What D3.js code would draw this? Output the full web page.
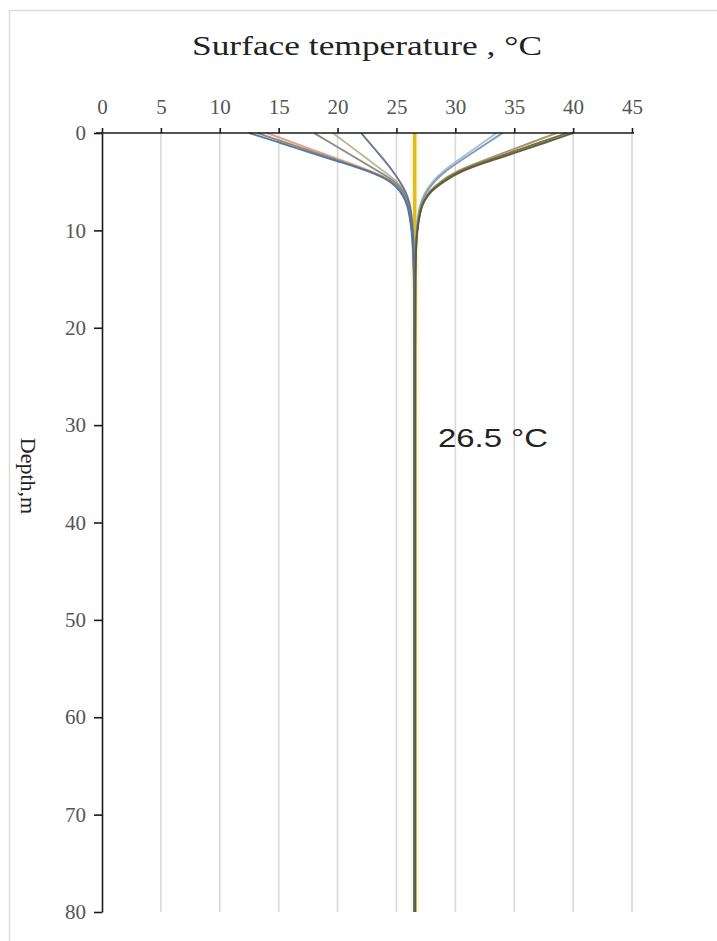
<!DOCTYPE html>
<html>
<head>
<meta charset="utf-8">
<script src="https://cdn.jsdelivr.net/npm/d3@7/dist/d3.min.js"></script>
<style>
  html, body { margin: 0; padding: 0; background: #fff; }
  svg { display: block; }
</style>
</head>
<body>
<svg id="chart" width="717" height="941"></svg>
<script>
// ---------- data ----------
const depths = [0, 1, 2, 3, 4, 5, 6, 7, 8, 10, 12, 15, 20, 40, 60, 80];
const xTicks = [0, 5, 10, 15, 20, 25, 30, 35, 40, 45];
const yTicks = [0, 10, 20, 30, 40, 50, 60, 70, 80];

// temperatures (°C) at each depth in `depths`
const s1  = [12.5, 15.09, 17.67, 20.26, 22.85, 24.6, 25.35, 25.8, 26.05, 26.3, 26.42, 26.49, 26.5, 26.5, 26.5, 26.5];
const s2  = [13.2, 15.63, 18.07, 20.5, 22.94, 24.7, 25.42, 25.85, 26.08, 26.32, 26.43, 26.5, 26.51, 26.51, 26.51, 26.51];
const s3  = [14.0, 16.26, 18.52, 20.78, 23.04, 24.8, 25.5, 25.9, 26.12, 26.34, 26.44, 26.5, 26.51, 26.51, 26.51, 26.51];
const s4  = [18.0, 19.39, 20.78, 22.17, 23.56, 24.95, 25.6, 25.97, 26.17, 26.36, 26.45, 26.51, 26.52, 26.52, 26.52, 26.52];
const s5  = [19.6, 20.7, 21.8, 22.9, 24.0, 25.1, 25.68, 26.02, 26.2, 26.38, 26.46, 26.51, 26.52, 26.52, 26.52, 26.52];
const s6  = [22.0, 22.7, 23.4, 24.1, 24.75, 25.3, 25.78, 26.08, 26.25, 26.41, 26.48, 26.52, 26.53, 26.53, 26.53, 26.53];
const s7  = [33.5, 32.33, 31.15, 29.98, 28.85, 28.05, 27.45, 27.1, 26.88, 26.68, 26.6, 26.57, 26.56, 26.56, 26.56, 26.56];
const s8  = [34.0, 32.75, 31.5, 30.25, 29.05, 28.2, 27.55, 27.15, 26.92, 26.7, 26.61, 26.58, 26.57, 26.57, 26.57, 26.57];
const s9  = [38.6, 36.4, 34.2, 32.0, 29.95, 28.7, 27.75, 27.25, 26.98, 26.73, 26.63, 26.59, 26.58, 26.58, 26.58, 26.58];
const s10 = [39.5, 37.1, 34.7, 32.3, 30.15, 28.85, 27.85, 27.3, 27.0, 26.75, 26.64, 26.6, 26.59, 26.59, 26.59, 26.59];
const s11 = [40.0, 37.6, 35.2, 32.6, 30.35, 29.0, 27.9, 27.33, 27.02, 26.76, 26.65, 26.61, 26.6, 26.6, 26.6, 26.6];
const meanLine = [26.55, 26.55, 26.55, 26.55, 26.55, 26.55, 26.55, 26.55, 26.55, 26.55, 26.55, 26.55, 26.55, 26.55, 26.55, 26.55];

const seriesValues = [s1, s2, s3, s4, s5, s6, s7, s8, s9, s10, s11];
const seriesColors = ["#4f73a6", "#8d8a6a", "#e39b80", "#85857a", "#bdb59a", "#5d7290",
                      "#9fc0d8", "#7d98ae", "#a89060", "#6f6a3c", "#5a5a40"];
const drawOrder = [6, 7, 4, 2, 1, 3, 0, 5, 8, 9, 10];

// ---------- layout ----------
const svg = d3.select("#chart");
const x = d3.scaleLinear().domain([0, 45]).range([102, 632]);
const y = d3.scaleLinear().domain([0, 80]).range([133, 912]);

// frame (top & left visible)
svg.append("rect").attr("x", 9.5).attr("y", 10.5).attr("width", 760).attr("height", 960)
  .attr("fill", "none").attr("stroke", "#dcdcdc").attr("stroke-width", 1.5);

// vertical grid lines
svg.append("g").selectAll("line").data(xTicks.filter(d => d > 0)).join("line")
  .attr("x1", d => x(d)).attr("x2", d => x(d))
  .attr("y1", y(0)).attr("y2", y(80))
  .attr("stroke", "#d9d9d9").attr("stroke-width", 1.6);

// lines
const line = d3.line().x(d => x(d.t)).y(d => y(d.z)).curve(d3.curveBasis);
const toPts = vals => vals.map((t, i) => ({ z: depths[i], t }));

// yellow line with soft glow
svg.append("path").datum(toPts(meanLine)).attr("d", line)
  .attr("fill", "none").attr("stroke", "#f6eeb0").attr("stroke-width", 8).attr("opacity", 0.5);
svg.append("path").datum(toPts(meanLine)).attr("d", line)
  .attr("fill", "none").attr("stroke", "#e0bb22").attr("stroke-width", 3.4);

svg.append("g").selectAll("path").data(drawOrder).join("path")
  .attr("d", i => line(toPts(seriesValues[i])))
  .attr("fill", "none")
  .attr("stroke", i => seriesColors[i])
  .attr("stroke-width", 1.9)
  .attr("opacity", 0.95);

// axes
const xAxis = svg.append("g").attr("transform", `translate(0,${y(0)})`)
  .call(d3.axisTop(x).tickValues(xTicks).tickSize(5).tickSizeOuter(0).tickPadding(14));
xAxis.select(".domain").attr("d", `M${x(0) - 6},0H${x(45) + 2}`);
const yAxis = svg.append("g").attr("transform", `translate(${x(0)},0)`)
  .call(d3.axisLeft(y).tickValues(yTicks).tickSize(8).tickSizeOuter(0).tickPadding(8));

[xAxis, yAxis].forEach(g => {
  g.select(".domain").attr("stroke", "#1a1a1a").attr("stroke-width", 1.6);
  g.selectAll(".tick line").attr("stroke", "#1a1a1a").attr("stroke-width", 1.6);
  g.selectAll(".tick text")
    .attr("font-family", "'Liberation Serif', 'Times New Roman', serif")
    .attr("font-size", 21).attr("fill", "#555");
});

// titles
svg.append("text").attr("x", 367).attr("y", 55).attr("text-anchor", "middle")
  .attr("font-family", "'Liberation Serif', 'Times New Roman', serif")
  .attr("font-size", 27).attr("fill", "#222")
  .attr("textLength", 350).attr("lengthAdjust", "spacingAndGlyphs")
  .text("Surface temperature , °C");

svg.append("text").attr("transform", "translate(21,476) rotate(90)")
  .attr("text-anchor", "middle")
  .attr("font-family", "'Liberation Serif', 'Times New Roman', serif")
  .attr("font-size", 22).attr("fill", "#222")
  .text("Depth,m");

svg.append("text").attr("x", 438).attr("y", 447)
  .attr("font-family", "'Liberation Sans', Arial, sans-serif")
  .attr("font-size", 25).attr("fill", "#222")
  .attr("textLength", 110).attr("lengthAdjust", "spacingAndGlyphs")
  .text("26.5 °C");
</script>
</body>
</html>
